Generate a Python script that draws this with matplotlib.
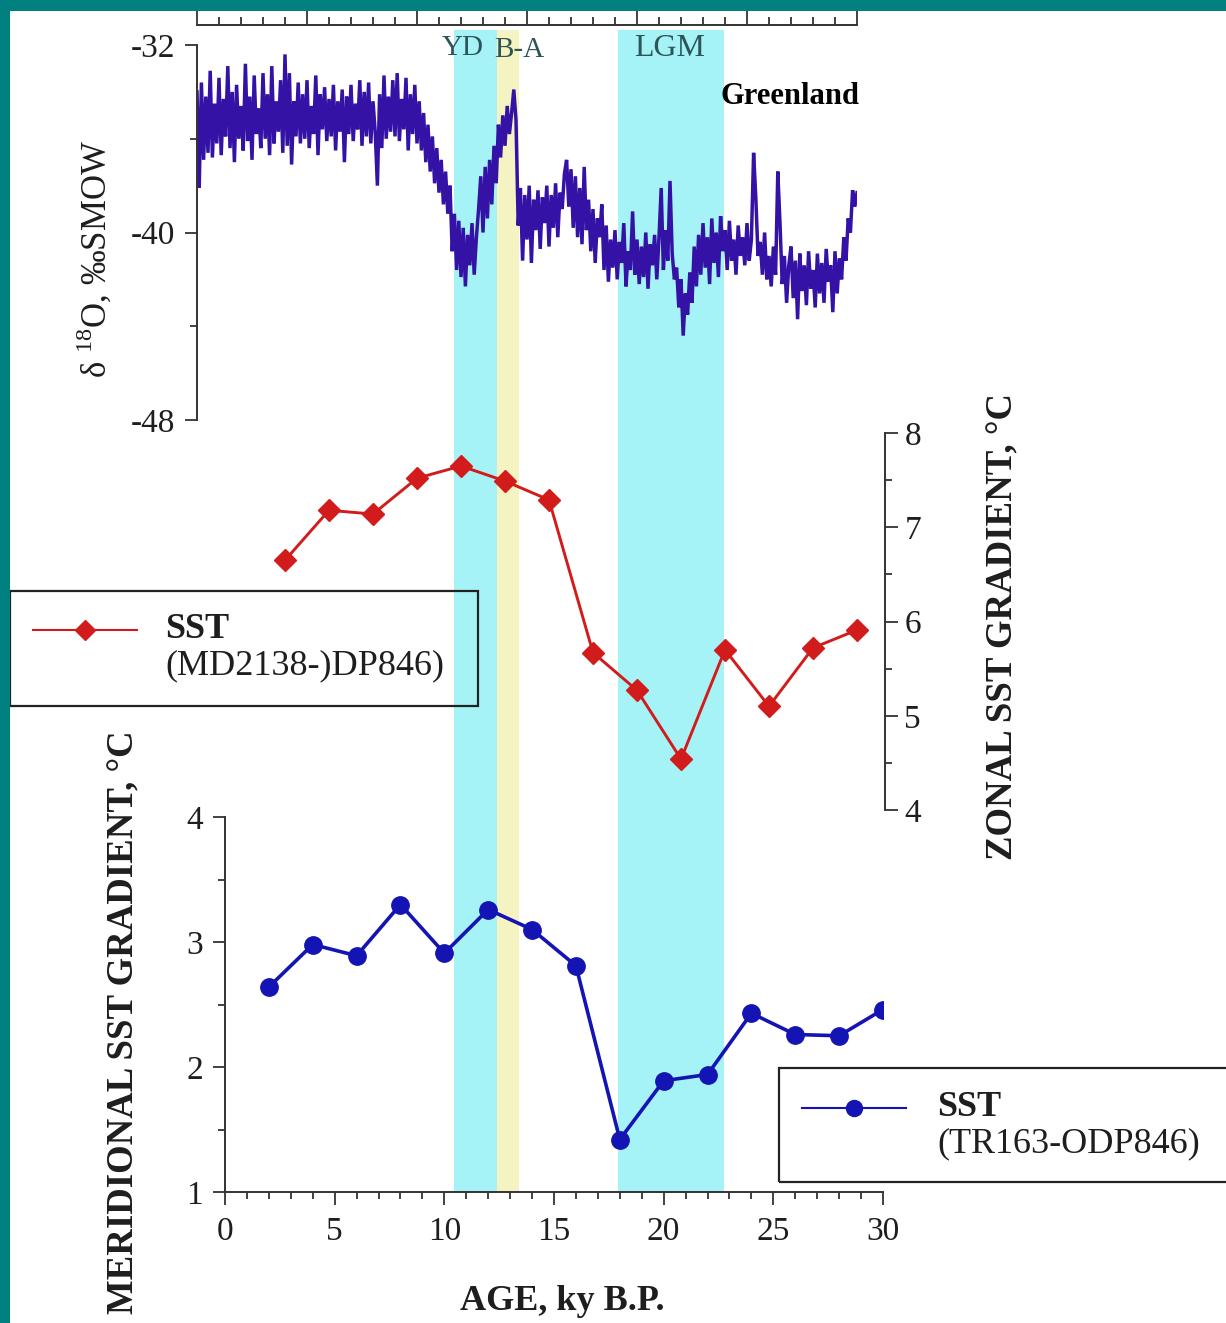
import numpy as np
import matplotlib.pyplot as plt
from matplotlib.patches import Rectangle
from matplotlib.lines import Line2D
from matplotlib.ticker import MultipleLocator

plt.rcParams['font.family'] = ['Liberation Serif', 'DejaVu Serif']
plt.rcParams['mathtext.fontset'] = 'custom'
plt.rcParams['mathtext.rm'] = 'Liberation Serif'
plt.rcParams['axes.unicode_minus'] = False

W, H = 1226, 1323

###########################################################################
# Data
###########################################################################
# Greenland d18O (permil SMOW), one value every 0.1 ky from 0 to 30 ky
d18o = [
    -34.0, -38.1, -33.6, -36.9, -34.2, -36.6, -33.1, -36.8, -34.5, -36.2,
    -33.4, -36.7, -34.3, -35.9, -32.9, -36.4, -34.0, -37.0, -33.7, -36.0,
    -34.6, -36.5, -32.8, -36.1, -34.2, -36.9, -33.3, -35.8, -34.7, -36.4,
    -33.2, -36.0, -34.1, -36.7, -32.9, -36.2, -34.4, -35.7, -33.5, -36.6,
    -32.4, -36.3, -33.2, -37.1, -34.4, -35.9, -33.6, -36.2, -34.1, -36.0,
    -33.5, -36.4, -34.6, -35.8, -33.3, -36.7, -34.1, -35.6, -33.8, -36.1,
    -34.3, -35.9, -33.7, -36.5, -34.4, -35.7, -33.9, -37.0, -34.2, -35.8,
    -33.7, -36.1, -34.5, -35.6, -33.5, -36.3, -34.0, -35.9, -33.6, -36.2,
    -34.4, -35.7, -38.0, -34.1, -36.4, -33.3, -36.0, -34.2, -35.7, -33.5,
    -35.9, -33.2, -36.1, -34.3, -35.6, -33.4, -36.5, -34.1, -35.8, -33.7,
    -36.2, -34.4, -36.5, -34.9, -37.0, -35.4, -37.4, -35.9, -37.9, -36.4,
    -38.3, -36.9, -38.8, -37.4, -39.2, -38.0, -40.8, -39.2, -41.6, -39.5,
    -41.9, -39.8, -42.3, -40.1, -41.4, -39.6, -41.8, -40.2, -39.0, -37.6,
    -40.0, -37.2, -39.4, -36.9, -38.8, -36.3, -37.9, -35.4, -36.8, -35.0,
    -36.3, -34.6, -35.8, -34.9, -33.9, -35.2, -39.7, -38.1, -41.2, -38.4,
    -40.3, -38.0, -41.3, -38.6, -39.9, -38.2, -40.7, -38.5, -39.6, -38.0,
    -40.6, -38.4, -39.8, -37.9, -40.2, -38.3, -39.0, -37.5, -36.9, -38.9,
    -37.3, -39.8, -37.6, -40.2, -38.1, -40.5, -37.2, -39.9, -38.6, -40.8,
    -39.0, -41.3, -39.4, -40.2, -38.8, -41.6, -39.7, -42.1, -40.3, -41.5,
    -39.9, -42.0, -40.4, -41.3, -39.6, -42.3, -40.8, -41.6, -39.1, -41.8,
    -40.3, -42.2, -40.6, -41.9, -40.0, -42.4, -40.5, -41.4, -40.1, -42.0,
    -40.2, -38.1, -41.6, -39.9, -41.2, -37.8, -40.9, -42.0, -41.5, -43.2,
    -42.0, -44.4, -42.6, -43.5, -41.7, -43.0, -40.6, -42.3, -40.1, -41.8,
    -39.6, -41.5, -40.2, -42.2, -39.4, -41.3, -40.0, -41.9, -39.3, -40.8,
    -39.9, -41.6, -39.5, -41.2, -40.3, -41.8, -39.7, -41.0, -40.2, -41.4,
    -39.6, -41.2, -40.3, -36.6, -38.5, -41.0, -40.4, -41.8, -40.0, -42.0,
    -41.0, -42.3, -40.6, -41.8, -37.4, -39.6, -42.2, -41.0, -43.0, -41.4,
    -40.6, -42.8, -41.2, -43.7, -40.9, -42.5, -41.4, -43.1, -40.8, -42.4,
    -41.6, -43.2, -40.9, -42.6, -41.3, -43.0, -40.7, -42.1, -41.4, -43.4,
    -40.8, -42.6, -41.1, -42.0, -40.2, -41.2, -39.4, -40.0, -38.2, -38.9,
    -38.3,
]
gisp_age = np.round(np.arange(len(d18o)) * 0.1, 1)

# zonal SST gradient, (MD2138-)DP846
zonal_age = [4, 6, 8, 10, 12, 14, 16, 18, 20, 22, 24, 26, 28, 30]
zonal_grad = [6.65, 7.18, 7.14, 7.52, 7.65, 7.49, 7.29, 5.67, 5.27, 4.54, 5.70, 5.10, 5.72, 5.91]

# meridional SST gradient, TR163-ODP846
merid_age = [2, 4, 6, 8, 10, 12, 14, 16, 18, 20, 22, 24, 26, 28, 30]
merid_grad = [2.64, 2.98, 2.89, 3.30, 2.91, 3.26, 3.10, 2.81, 1.42, 1.89, 1.94, 2.43, 2.26, 2.25, 2.46]

# climate events, ky B.P.
events = ['YD', 'B-A', 'LGM']
event_start = [11.7, 13.64, 19.14]
event_end = [13.64, 14.64, 23.95]
event_color = ['#a6f3f7', '#f6f3c2', '#a6f3f7']

###########################################################################
# Colours
###########################################################################
cTrace = '#3412a6'
cRed = '#d21c1c'
cBlue = '#1414b4'
cAxis = '#333333'
cText = '#1e1e1e'
cEvent = '#2d5558'
cBorder = '#008080'

def rect(l, t, r, b):
    return [l / W, 1 - b / H, (r - l) / W, (b - t) / H]

def fx(px):
    return px / W

def fy(py):
    return 1 - py / H

fig = plt.figure(figsize=(W / 100, H / 100), dpi=100)
fig.patch.set_facecolor('white')

def style(ax):
    ax.patch.set_visible(False)
    for s in ax.spines.values():
        s.set_visible(False)
        s.set_color(cAxis)
        s.set_linewidth(1.4)
    ax.tick_params(which='both', colors=cAxis, width=1.3, labelsize=24, labelcolor=cText, pad=7)
    ax.tick_params(which='major', length=9)
    ax.tick_params(which='minor', length=5)

###########################################################################
# Event bands (shared age scale of the ice core panel)
###########################################################################
axBg = fig.add_axes(rect(197, 30, 857, 1192), zorder=0)
axBg.set_xlim(0, 30)
axBg.axis('off')
for s, e, c in zip(event_start, event_end, event_color):
    axBg.axvspan(s, e, color=c, lw=0)

###########################################################################
# Greenland d18O
###########################################################################
pxPerUnit = (420 - 45) / 16.
axTop = fig.add_axes(rect(197, 25, 857, 420), zorder=2)
style(axTop)
axTop.plot(gisp_age, d18o, color=cTrace, lw=2.5, solid_joinstyle='miter')
axTop.set_xlim(0, 30)
axTop.set_ylim(-48, -32 + 20 / pxPerUnit)
axTop.spines['top'].set_visible(True)
axTop.spines['left'].set_visible(True)
axTop.spines['left'].set_bounds(-48, -32)
axTop.xaxis.set_ticks_position('top')
axTop.xaxis.set_major_locator(MultipleLocator(5))
axTop.xaxis.set_minor_locator(MultipleLocator(1))
axTop.tick_params(axis='x', which='both', direction='out', labeltop=False)
axTop.tick_params(axis='x', which='major', length=14)
axTop.tick_params(axis='x', which='minor', length=6)
axTop.set_yticks([-48, -40, -32])
axTop.yaxis.set_minor_locator(MultipleLocator(4))

for name, x, y, fs in zip(events, [463, 519, 670], [48, 50, 48], [21, 21, 23]):
    fig.text(fx(x), fy(y), name, color=cEvent, fontsize=fs, ha='center', va='center')
fig.text(fx(860), fy(97), 'Greenland', fontsize=22, fontweight='bold', ha='right', va='center')
fig.text(fx(95), fy(259), 'δ $^{18}$O, ‰SMOW', fontsize=25, rotation=90,
         ha='center', va='center', color=cText)

###########################################################################
# Zonal SST gradient
###########################################################################
axMid = fig.add_axes(rect(197, 433, 885, 810), zorder=2)
style(axMid)
axMid.plot(zonal_age, zonal_grad, color=cRed, lw=2.1, marker='D', ms=11.5, mec=cRed, mfc=cRed)
axMid.set_xlim(0, (885 - 197) / 22.)
axMid.set_ylim(4, 8)
axMid.spines['right'].set_visible(True)
axMid.set_xticks([])
axMid.yaxis.set_ticks_position('right')
axMid.set_yticks([4, 5, 6, 7, 8])
axMid.yaxis.set_minor_locator(MultipleLocator(0.5))
axMid.tick_params(axis='y', pad=5)
fig.text(fx(1003), fy(627), 'ZONAL SST GRADIENT, °C', fontsize=26.5, fontweight='bold',
         rotation=90, ha='center', va='center', color=cText)

###########################################################################
# Meridional SST gradient
###########################################################################
axBot = fig.add_axes(rect(225, 817, 883, 1192), zorder=2)
style(axBot)
axBot.plot(merid_age, merid_grad, color=cBlue, lw=2.6, marker='o', ms=12.5, mec=cBlue, mfc=cBlue)
axBot.set_xlim(0, 30)
axBot.set_ylim(1, 4)
axBot.spines['left'].set_visible(True)
axBot.spines['bottom'].set_visible(True)
axBot.xaxis.set_major_locator(MultipleLocator(5))
axBot.xaxis.set_minor_locator(MultipleLocator(1))
axBot.set_yticks([1, 2, 3, 4])
axBot.yaxis.set_minor_locator(MultipleLocator(0.5))
axBot.tick_params(axis='x', pad=9)
fig.text(fx(124), fy(1022), 'MERIDIONAL SST GRADIENT, °C', fontsize=26.5, fontweight='bold',
         rotation=90, ha='center', va='center', color=cText)
fig.text(fx(562), fy(1302), 'AGE, ky B.P.', fontsize=26, fontweight='bold',
         ha='center', va='center', color=cText)

###########################################################################
# Legend boxes
###########################################################################
def legend_box(l, t, r, b, x0, x1, y, color, marker, ms, lw, tx, name, core):
    fig.patches.append(Rectangle((fx(l), fy(b)), (r - l) / W, (b - t) / H,
                                 transform=fig.transFigure, fill=False,
                                 ec='#222222', lw=1.6, zorder=5))
    fig.lines.append(Line2D([fx(x0), fx(x1)], [fy(y), fy(y)], transform=fig.transFigure,
                            color=color, lw=lw, zorder=5))
    fig.lines.append(Line2D([fx((x0 + x1) / 2)], [fy(y)], transform=fig.transFigure,
                            ls='none', marker=marker, ms=ms, color=color, zorder=6))
    fig.text(fx(tx), fy(y), name, fontsize=26, fontweight='bold', ha='left', va='center',
             color=cText, zorder=6)
    fig.text(fx(tx), fy(y + 36), core, fontsize=26, ha='left', va='center',
             color=cText, zorder=6)

legend_box(10, 591, 478, 706, 33, 137, 630, cRed, 'D', 10.5, 1.5, 165, 'SST', '(MD2138-)DP846)')
legend_box(779, 1068, 1240, 1182, 802, 906, 1108, cBlue, 'o', 11.5, 1.5, 937, 'SST', '(TR163-ODP846)')

###########################################################################
# Frame
###########################################################################
fig.patches.append(Rectangle((0, 0), 10 / W, 1, transform=fig.transFigure,
                             color=cBorder, lw=0, zorder=10))
fig.patches.append(Rectangle((0, fy(11)), 1, 11 / H, transform=fig.transFigure,
                             color=cBorder, lw=0, zorder=10))

fig.savefig('out.png', dpi=100)
